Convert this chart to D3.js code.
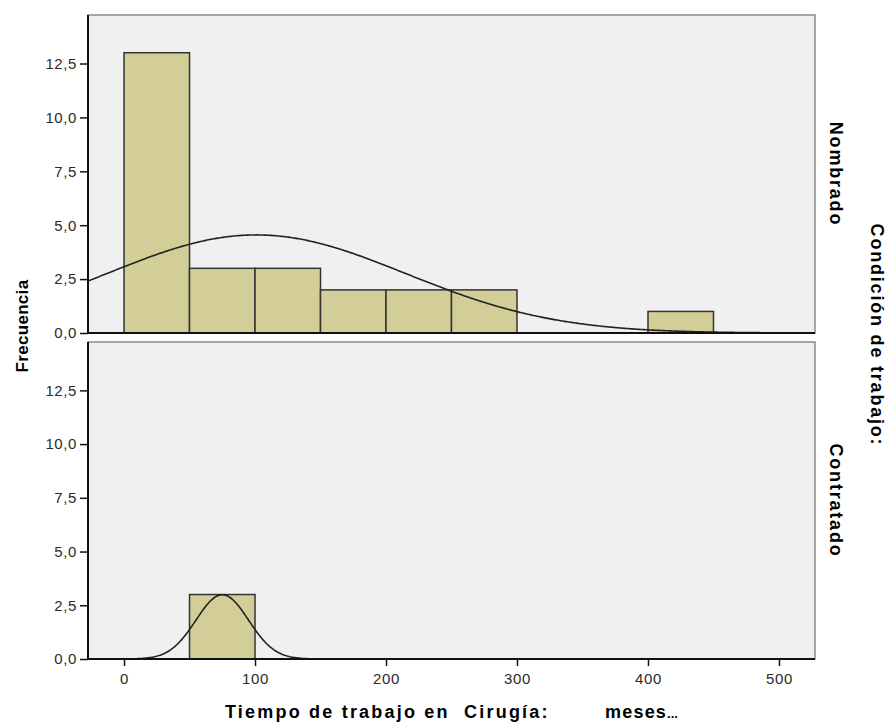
<!DOCTYPE html>
<html>
<head>
<meta charset="utf-8">
<script src="https://cdn.jsdelivr.net/npm/d3@7"></script>
<style>
  body { margin: 0; background: #fff; }
  text { font-family: Arial, "Liberation Sans", sans-serif; }
</style>
</head>
<body>
<svg id="chart" width="890" height="725"></svg>
<script>
// bins (lower edge, months) and counts for each panel
var binStarts = [0, 50, 100, 150, 200, 250, 400];
var binWidth = 50;
var nombradoCounts = [13, 3, 3, 2, 2, 2, 1];
var contratadoStarts = [50];
var contratadoCounts = [3];
var panelNames = ['Nombrado', 'Contratado'];
var yTicks = [0, 2.5, 5, 7.5, 10, 12.5];
var xTicks = [0, 100, 200, 300, 400, 500];
// fitted normal curve parameters (mean, sd, n)
var nombradoFit = {mean: 101, sd: 114, n: 26};
var contratadoFit = {mean: 75, sd: 20, n: 3};

var svg = d3.select('#chart');
var left = 88, right = 815;
var panels = [
  {name: panelNames[0], top: 15, bottom: 333, starts: binStarts, counts: nombradoCounts, fit: nombradoFit},
  {name: panelNames[1], top: 342, bottom: 659, starts: contratadoStarts, counts: contratadoCounts, fit: contratadoFit}
];

var xs = d3.scaleLinear().domain([-27.5, 527.5]).range([left, right]);
var fmt = function(d) { return d3.format('.1f')(d).replace('.', ','); };

panels.forEach(function(p, pi) {
  var ys = d3.scaleLinear().domain([0, 14.75]).range([p.bottom, p.top]);
  var g = svg.append('g');

  g.append('rect')
    .attr('x', left).attr('y', p.top)
    .attr('width', right - left).attr('height', p.bottom - p.top)
    .attr('fill', '#f0f0f0')
    .attr('stroke', '#8a8a8a')
    .attr('stroke-width', 1.5);

  var data = p.starts.map(function(s, i) { return {x0: s, n: p.counts[i]}; });
  g.selectAll('rect.bar')
    .data(data)
    .enter()
    .append('rect')
    .attr('class', 'bar')
    .attr('x', function(d) { return xs(d.x0); })
    .attr('width', function(d) { return xs(d.x0 + binWidth) - xs(d.x0); })
    .attr('y', function(d) { return ys(d.n); })
    .attr('height', function(d) { return ys(0) - ys(d.n); })
    .attr('fill', '#d3ce98')
    .attr('stroke', '#333')
    .attr('stroke-width', 1.5);

  // normal curve
  var f = p.fit;
  var pts = d3.range(xs.domain()[0], xs.domain()[1] + 0.1, 1).map(function(x) {
    var z = (x - f.mean) / f.sd;
    return [x, f.n * binWidth / (f.sd * Math.sqrt(2 * Math.PI)) * Math.exp(-0.5 * z * z)];
  });
  g.append('path')
    .datum(pts)
    .attr('fill', 'none')
    .attr('stroke', '#222')
    .attr('stroke-width', 1.6)
    .attr('d', d3.line().x(function(d) { return xs(d[0]); }).y(function(d) { return ys(d[1]); }));

  // y axis
  var ya = g.append('g')
    .attr('transform', 'translate(' + left + ',0)')
    .call(d3.axisLeft(ys).tickValues(yTicks).tickFormat(fmt).tickSize(8).tickPadding(3));
  ya.select('.domain').attr('stroke', '#111').attr('stroke-width', 2).attr('d', 'M0,' + p.top + 'V' + p.bottom);
  ya.selectAll('.tick line').attr('stroke', '#111').attr('stroke-width', 1.5);
  ya.selectAll('.tick text').attr('fill', '#2a2a2a').style('font-size', '15px').style('letter-spacing', '0.6px');

  // baseline
  g.append('line')
    .attr('x1', left).attr('x2', right)
    .attr('y1', p.bottom).attr('y2', p.bottom)
    .attr('stroke', '#111').attr('stroke-width', 2);

  // panel label
  g.append('text')
    .attr('transform', 'translate(830,' + ((p.top + p.bottom) / 2) + ') rotate(90)')
    .attr('text-anchor', 'middle')
    .style('font-size', '18px')
    .style('font-weight', 'bold')
    .style('letter-spacing', '1.8px')
    .text(p.name);

  if (pi === panels.length - 1) {
    var xa = g.append('g')
      .attr('transform', 'translate(0,' + p.bottom + ')')
      .call(d3.axisBottom(xs).tickValues(xTicks).tickSize(7).tickPadding(7));
    xa.select('.domain').remove();
    xa.selectAll('.tick line').attr('stroke', '#111').attr('stroke-width', 1.5);
    xa.selectAll('.tick text').attr('fill', '#2a2a2a').style('font-size', '15px').style('letter-spacing', '0.6px');
  }
});

// Axis titles
svg.append('text')
  .attr('transform', 'translate(28,326) rotate(-90)')
  .attr('text-anchor', 'middle')
  .style('font-size', '17px')
  .style('font-weight', 'bold')
  .style('letter-spacing', '0.3px')
  .text('Frecuencia');

svg.append('text')
  .attr('transform', 'translate(871,335) rotate(90)')
  .attr('text-anchor', 'middle')
  .style('font-size', '18px')
  .style('font-weight', 'bold')
  .style('letter-spacing', '1.8px')
  .text('Condición de trabajo:');

var xTitle = svg.append('text')
  .attr('x', 225).attr('y', 718)
  .style('font-size', '18px')
  .style('font-weight', 'bold')
  .style('white-space', 'pre');
xTitle.append('tspan')
  .style('letter-spacing', '2.2px')
  .text('Tiempo de trabajo en  Cirugía:');
xTitle.append('tspan')
  .attr('x', 605)
  .style('letter-spacing', '1.2px')
  .text('meses');
xTitle.append('tspan')
  .style('font-size', '13px')
  .style('letter-spacing', '0px')
  .text('...');
</script>
</body>
</html>
